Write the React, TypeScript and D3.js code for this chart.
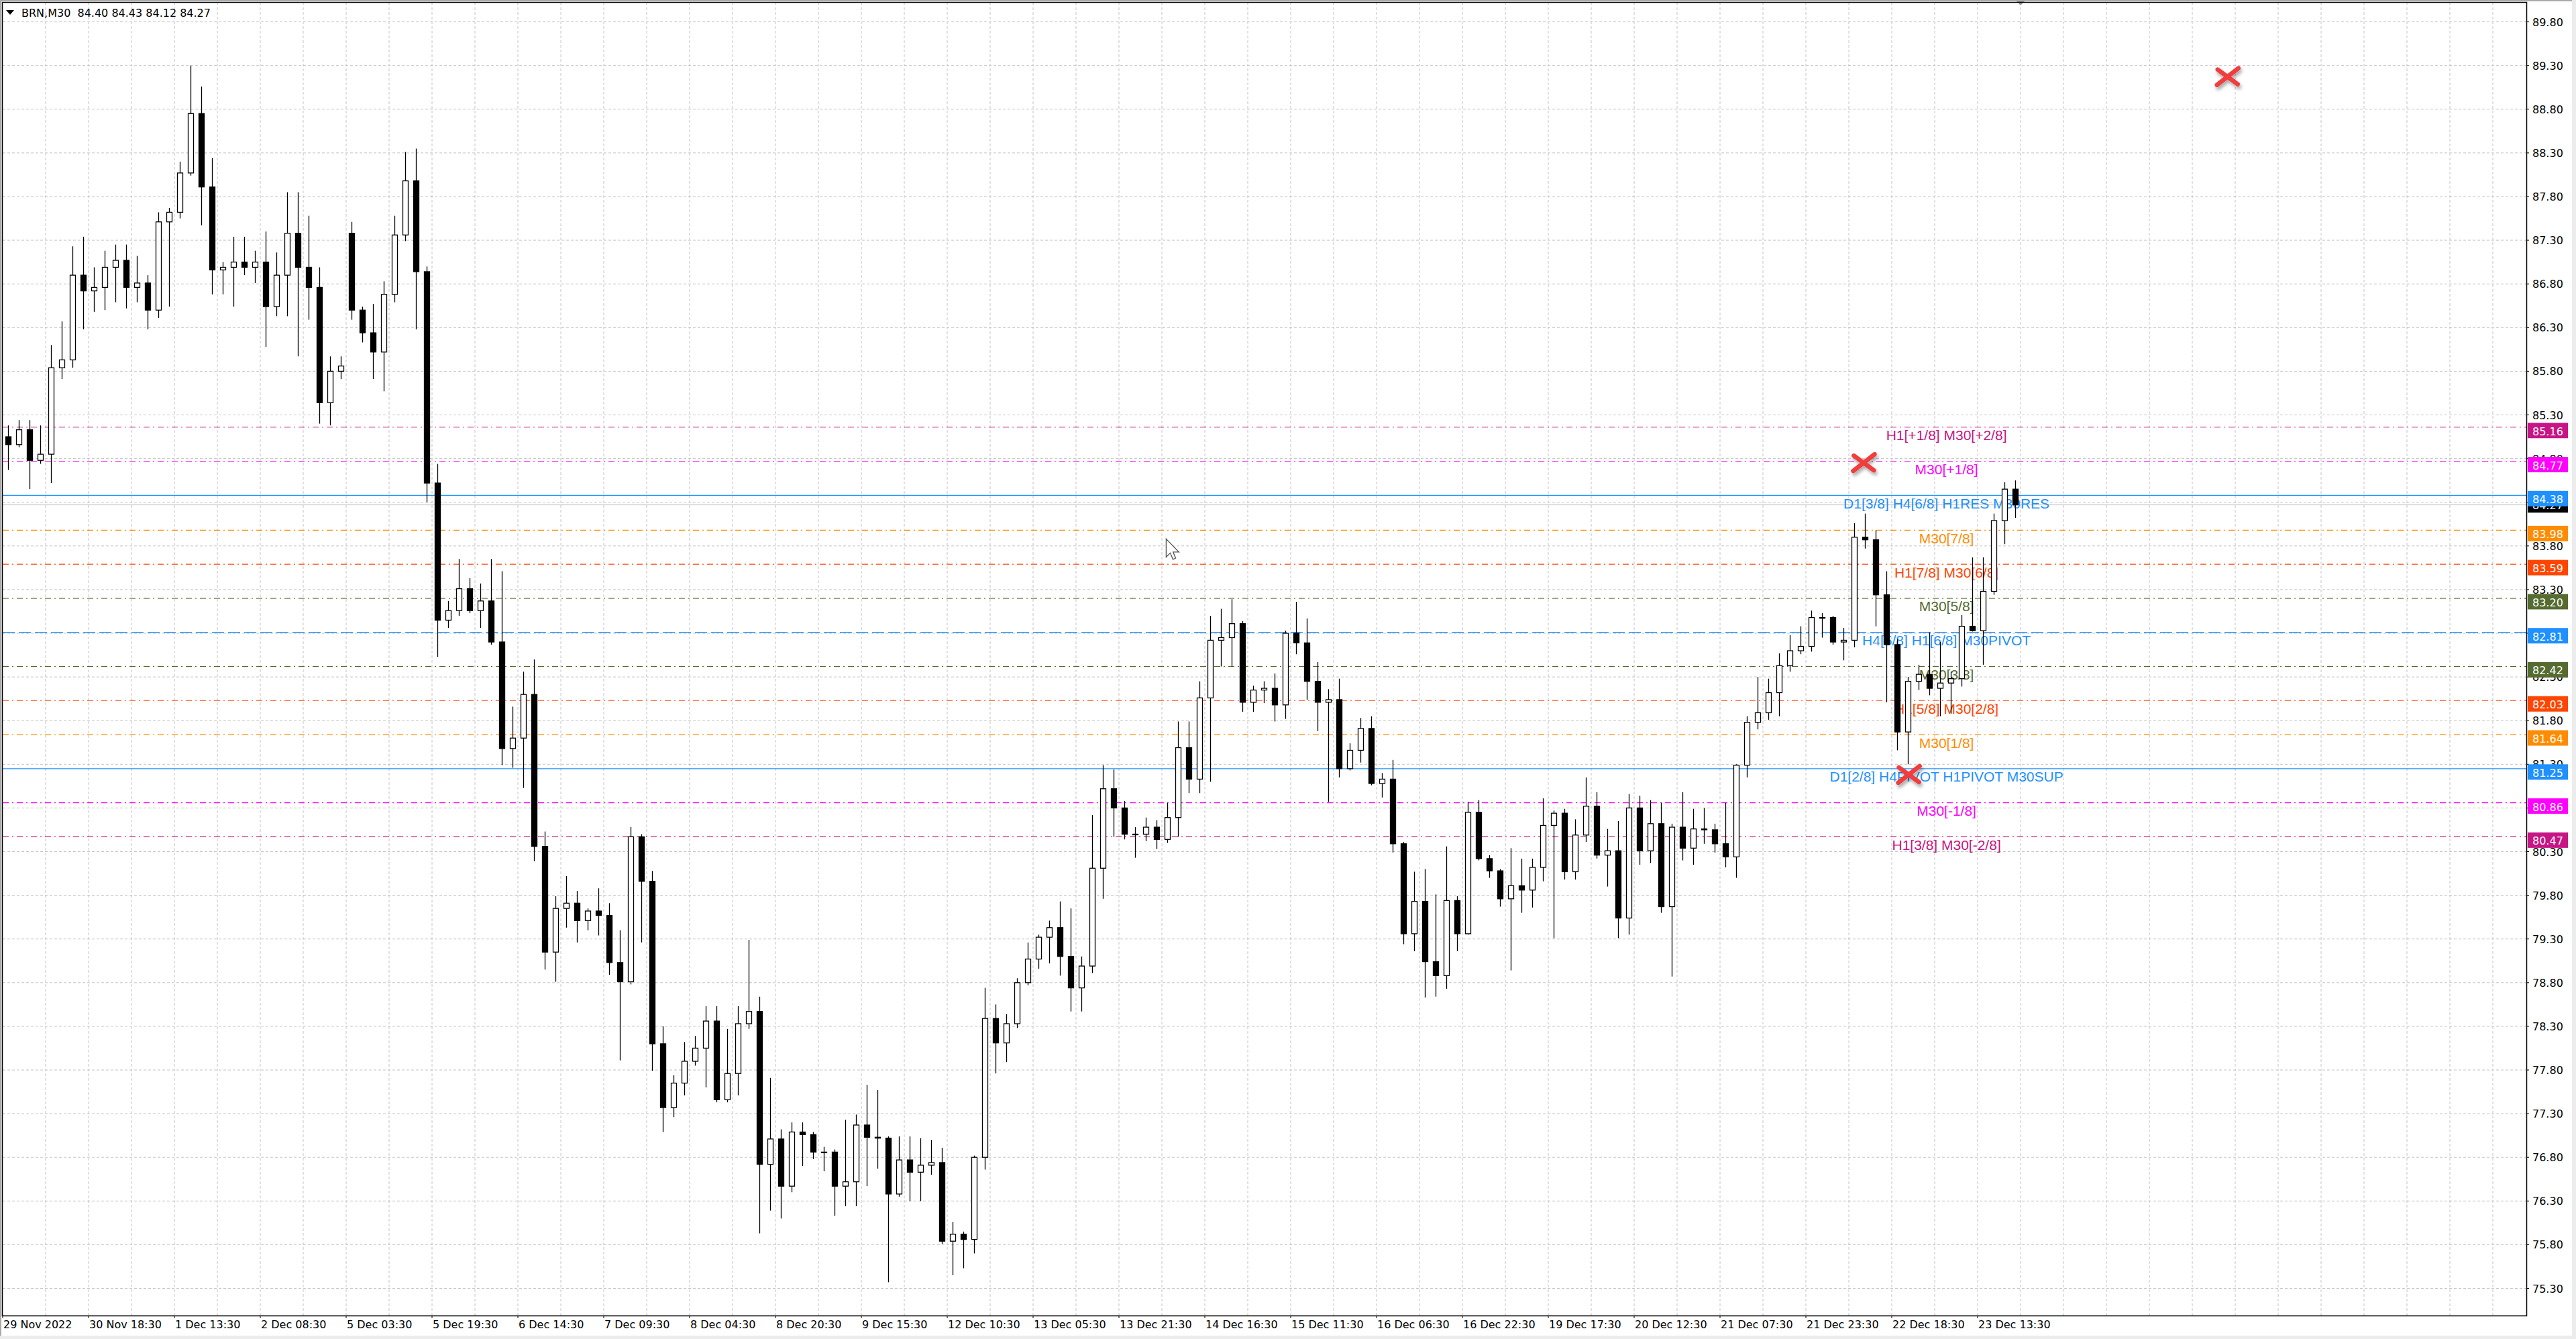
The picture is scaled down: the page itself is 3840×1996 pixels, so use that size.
import React from "react";
import * as d3 from "d3";

// chart data: M30 Brent, aggregated into 2-hour candles
const opens = [
  85.05, 84.96, 85.13, 84.78, 84.85, 85.84, 85.93, 86.9, 86.72, 86.76,
  86.99, 87.07, 86.76, 86.81, 86.5, 87.51, 87.62, 88.07, 88.75, 87.91,
  86.96, 86.99, 87.05, 86.99, 87.05, 86.54, 86.9, 87.38, 86.99, 86.76,
  85.44, 85.8, 87.38, 86.5, 86.24, 86.02, 86.68, 87.36, 87.98, 86.94,
  84.52, 82.95, 83.06, 83.31, 83.06, 83.17, 82.7, 81.48, 81.6, 82.1,
  80.36, 79.15, 79.65, 79.71, 79.51, 79.62, 79.57, 79.03, 78.81, 80.47,
  79.96, 78.1, 77.37, 77.65, 77.9, 78.05, 78.36, 77.46, 77.76, 78.33,
  78.47, 76.72, 77.01, 76.47, 77.09, 77.06, 76.86, 76.86, 76.47, 76.52,
  77.17, 77.03, 77.02, 76.38, 76.77, 76.63, 76.71, 76.74, 75.84, 75.92,
  75.86, 76.8, 78.39, 78.11, 78.33, 78.8, 79.07, 79.32, 79.43, 79.1,
  78.74, 78.99, 80.11, 81.02, 80.8, 80.5, 80.5, 80.58, 80.44, 80.69,
  81.49, 81.13, 82.06, 82.72, 82.75, 82.91, 82.01, 82.15, 82.17, 81.98,
  82.8, 82.69, 82.25, 82.01, 82.04, 81.25, 81.46, 81.71, 81.08, 81.13,
  80.39, 79.36, 79.73, 79.04, 78.88, 79.74, 79.36, 80.75, 80.22, 80.08,
  79.76, 79.91, 79.86, 80.12, 80.6, 80.74, 80.07, 80.49, 80.82, 80.26,
  80.31, 79.54, 80.8, 80.31, 80.62, 79.67, 80.58, 80.34, 80.56, 80.55,
  80.39, 80.24, 81.29, 81.78, 81.89, 82.12, 82.43, 82.6, 82.65, 82.98,
  82.98, 82.7, 82.72, 83.9, 83.87, 83.24, 82.67, 81.67, 82.25, 82.33,
  82.17, 82.23, 82.28, 82.88, 82.83, 83.28, 84.09, 84.45,
];
const highs = [
  85.18, 85.24, 85.24, 85.18, 86.1, 86.37, 87.23, 87.34, 86.99, 87.18,
  87.25, 87.25, 87.12, 86.9, 87.62, 87.67, 88.2, 89.3, 89.06, 88.24,
  87.05, 87.34, 87.34, 87.18, 87.4, 87.16, 87.85, 87.85, 87.58, 86.99,
  85.97, 85.97, 87.51, 86.54, 86.57, 86.83, 87.58, 88.31, 88.35, 87.0,
  84.74, 83.17, 83.65, 83.43, 83.37, 83.65, 83.51, 81.96, 82.36, 82.5,
  80.53, 79.79, 80.02, 79.85, 79.65, 79.88, 79.71, 79.4, 80.58, 80.5,
  80.08, 78.3, 77.74, 78.12, 78.19, 78.53, 78.53, 78.27, 78.53, 79.29,
  78.64, 77.71, 77.12, 77.2, 77.2, 77.09, 76.92, 76.89, 77.23, 77.29,
  77.63, 77.57, 77.04, 77.04, 77.04, 77.02, 77.0, 76.91, 76.06, 75.95,
  76.82, 78.74, 78.55, 78.44, 78.85, 79.26, 79.35, 79.51, 79.73, 79.65,
  79.1, 80.72, 81.29, 81.24, 80.88, 80.58, 80.69, 80.66, 80.86, 81.79,
  81.79, 82.25, 83.0, 83.08, 83.19, 82.94, 82.2, 82.25, 82.34, 82.83,
  83.16, 82.97, 82.47, 82.16, 82.28, 81.54, 81.83, 81.85, 81.2, 81.35,
  80.41, 80.07, 80.1, 79.81, 80.36, 79.79, 80.87, 80.89, 80.26, 80.1,
  80.34, 80.22, 80.22, 80.91, 80.77, 80.79, 80.67, 81.15, 80.98, 80.56,
  80.65, 80.96, 80.94, 80.89, 80.86, 80.62, 80.98, 80.79, 80.8, 80.62,
  80.86, 81.3, 81.85, 82.3, 82.28, 82.57, 82.78, 82.88, 83.06, 83.03,
  83.0, 82.86, 84.06, 84.17, 83.98, 83.51, 82.73, 82.3, 82.44, 82.81,
  82.7, 82.36, 83.01, 83.67, 83.67, 84.17, 84.53, 84.55,
];
const lows = [
  84.67, 84.93, 84.45, 84.74, 84.52, 85.71, 85.84, 86.28, 86.48, 86.5,
  86.59, 86.52, 86.59, 86.28, 86.41, 86.54, 87.55, 88.04, 87.47, 86.68,
  86.68, 86.54, 86.9, 86.81, 86.08, 86.43, 86.43, 85.97, 86.39, 85.2,
  85.18, 85.71, 86.39, 86.13, 85.71, 85.57, 86.59, 87.29, 86.28, 84.3,
  82.53, 82.86, 83.0, 83.03, 82.86, 82.67, 81.29, 81.26, 81.03, 80.19,
  78.95, 78.81, 79.43, 79.26, 79.4, 79.34, 78.89, 77.91, 78.78, 79.26,
  77.79, 77.09, 77.26, 77.51, 77.85, 77.6, 77.43, 77.43, 77.51, 78.27,
  75.93, 76.19, 76.1, 76.4, 76.7, 76.78, 76.64, 76.13, 76.24, 76.24,
  76.47, 76.67, 75.37, 76.35, 76.3, 76.3, 76.6, 75.81, 75.45, 75.53,
  75.7, 76.66, 77.76, 77.89, 78.28, 78.77, 78.96, 79.02, 78.88, 78.47,
  78.47, 78.91, 79.76, 80.47, 80.44, 80.23, 80.42, 80.33, 80.4, 80.47,
  80.97, 80.97, 81.1, 82.42, 82.42, 81.9, 81.9, 82.0, 81.79, 81.82,
  82.56, 82.04, 81.68, 80.87, 81.15, 81.23, 81.32, 81.06, 80.92, 80.29,
  79.24, 79.16, 78.63, 78.64, 78.73, 79.16, 79.35, 80.2, 80.0, 79.67,
  78.94, 79.6, 79.66, 79.96, 79.31, 79.98, 79.98, 80.41, 80.22, 79.9,
  79.31, 79.35, 80.15, 80.17, 79.6, 78.87, 80.2, 80.15, 80.39, 80.29,
  80.12, 80.0, 81.15, 81.7, 81.81, 81.85, 82.36, 82.56, 82.59, 82.75,
  82.67, 82.49, 82.64, 83.77, 82.88, 82.01, 81.46, 81.3, 82.15, 82.09,
  81.85, 81.88, 82.19, 82.82, 82.44, 83.24, 83.82, 84.12,
];
const closes = [
  84.96, 85.13, 84.78, 84.85, 85.84, 85.93, 86.9, 86.72, 86.76, 86.99,
  87.07, 86.76, 86.81, 86.5, 87.51, 87.62, 88.07, 88.75, 87.91, 86.96,
  86.99, 87.05, 86.99, 87.05, 86.54, 86.9, 87.38, 86.99, 86.76, 85.44,
  85.8, 85.86, 86.5, 86.24, 86.02, 86.68, 87.36, 87.98, 86.94, 84.52,
  82.95, 83.06, 83.31, 83.06, 83.17, 82.7, 81.48, 81.6, 82.1, 80.36,
  79.15, 79.65, 79.71, 79.51, 79.62, 79.57, 79.03, 78.81, 80.47, 79.96,
  78.1, 77.37, 77.65, 77.9, 78.05, 78.36, 77.46, 77.76, 78.33, 78.47,
  76.72, 77.01, 76.47, 77.09, 77.06, 76.86, 76.86, 76.47, 76.52, 77.17,
  77.03, 77.02, 76.38, 76.77, 76.63, 76.71, 76.74, 75.84, 75.92, 75.86,
  76.8, 78.39, 78.11, 78.33, 78.8, 79.07, 79.32, 79.43, 79.1, 78.74,
  78.99, 80.11, 81.02, 80.8, 80.5, 80.5, 80.58, 80.44, 80.69, 81.49,
  81.13, 82.06, 82.72, 82.75, 82.91, 82.01, 82.15, 82.17, 81.98, 82.8,
  82.69, 82.25, 82.01, 82.04, 81.25, 81.46, 81.71, 81.08, 81.13, 80.39,
  79.36, 79.73, 79.04, 78.88, 79.74, 79.36, 80.75, 80.22, 80.08, 79.76,
  79.91, 79.86, 80.12, 80.6, 80.74, 80.07, 80.49, 80.82, 80.26, 80.31,
  79.54, 80.8, 80.31, 80.62, 79.67, 80.58, 80.34, 80.56, 80.55, 80.39,
  80.24, 81.29, 81.78, 81.89, 82.12, 82.43, 82.6, 82.65, 82.98, 82.98,
  82.7, 82.72, 83.9, 83.87, 83.24, 82.67, 81.67, 82.25, 82.33, 82.17,
  82.23, 82.28, 82.88, 82.83, 83.28, 84.09, 84.45, 84.27,
];

// time axis labels, one every 8 candles
const timeLabels = [
  "29 Nov 2022", "30 Nov 18:30", "1 Dec 13:30", "2 Dec 08:30", "5 Dec 03:30",
  "5 Dec 19:30", "6 Dec 14:30", "7 Dec 09:30", "8 Dec 04:30", "8 Dec 20:30",
  "9 Dec 15:30", "12 Dec 10:30", "13 Dec 05:30", "13 Dec 21:30", "14 Dec 16:30",
  "15 Dec 11:30", "16 Dec 06:30", "16 Dec 22:30", "19 Dec 17:30", "20 Dec 12:30",
  "21 Dec 07:30", "21 Dec 23:30", "22 Dec 18:30", "23 Dec 13:30",
];

const priceTicks = [
  75.3, 75.8, 76.3, 76.8, 77.3, 77.8, 78.3, 78.8, 79.3, 79.8, 80.3, 80.8, 81.3,
  81.8, 82.3, 82.8, 83.3, 83.8, 84.3, 84.8, 85.3, 85.8, 86.3, 86.8, 87.3, 87.8,
  88.3, 88.8, 89.3, 89.8,
];

// Murrey math levels
const levelPrices = [85.16, 84.77, 84.38, 83.98, 83.59, 83.2, 82.81, 82.42, 82.03, 81.64, 81.25, 80.86, 80.47];
const levelNames = [
  "H1[+1/8] M30[+2/8]",
  "M30[+1/8]",
  "D1[3/8] H4[6/8] H1RES M30RES",
  "M30[7/8]",
  "H1[7/8] M30[6/8]",
  "M30[5/8]",
  "H4[5/8] H1[6/8] M30PIVOT",
  "M30[3/8]",
  "H1[5/8] M30[2/8]",
  "M30[1/8]",
  "D1[2/8] H4PIVOT H1PIVOT M30SUP",
  "M30[-1/8]",
  "H1[3/8] M30[-2/8]",
];
const levelColors = [
  "#C71585", "#FF00FF", "#1E90FF", "#FF8C00", "#FF4500", "#556B2F", "#1E90FF",
  "#556B2F", "#FF4500", "#FF8C00", "#1E90FF", "#FF00FF", "#C71585",
];
const levelStyles = [
  "dashdot", "dashdot", "solid", "dashdot", "dashdot", "dashdot", "dash",
  "dashdot", "dashdot", "dashdot", "solid", "dashdot", "dashdot",
];

const lastBar = { name: "BRN,M30", open: 84.4, high: 84.43, low: 84.12, close: 84.27 };

// arrow objects (red crosses)
const crossSlots = [173.4, 177.6, 207.3];
const crossPrices = [84.75, 81.18, 89.17];

// mouse pointer position (slot, price)
const pointerAt = { slot: 108.4, price: 83.88 };

const W = 3840;
const H = 1996;
const FONT = "'DejaVu Sans', Verdana, sans-serif";

const dashFor = (s: string) =>
  s === "dashdot" ? "9 5 2 5" : s === "dash" ? "18 6" : undefined;

export default function App() {
  const left = 4;
  const right = 3766;
  const top = 4;
  const bottom = 1961;

  const x = d3.scaleLinear().domain([0, 235]).range([left, 3764]);
  const y = d3.scaleLinear().domain([75.3, 89.8]).range([1920.5, 32.6]);

  const labelX = x(181.1);
  const bodyW = 8;

  return (
    <svg
      width={W}
      height={H}
      style={{ position: "absolute", left: 0, top: 0, display: "block", background: "#fff" }}
      fontFamily={FONT}
    >
      <defs>
        <clipPath id="plot">
          <rect x={left} y={top} width={right - left} height={bottom - top} />
        </clipPath>
        <filter id="shadow" x="-50%" y="-50%" width="200%" height="200%">
          <feDropShadow dx="2" dy="4" stdDeviation="2.5" floodColor="#000" floodOpacity="0.35" />
        </filter>
      </defs>
      <rect width={W} height={H} fill="#fff" />

      {/* window edges */}
      <rect x={0} y={0} width={W} height={2} fill="#a9a9a9" />
      <rect x={0} y={0} width={2} height={H} fill="#a9a9a9" />
      <rect x={3834} y={0} width={6} height={H} fill="#ececec" />
      <rect x={0} y={1991} width={W} height={5} fill="#ececec" />

      <g clipPath="url(#plot)">
        {/* grid */}
        {d3.range(1, 59).map((j) => (
          <line key={"vg" + j} x1={x(j * 4)} x2={x(j * 4)} y1={top} y2={bottom}
            stroke="#c4c4c4" strokeDasharray="4 3" />
        ))}
        {priceTicks.map((p) => (
          <line key={"hg" + p} x1={left} x2={right} y1={y(p)} y2={y(p)}
            stroke="#c4c4c4" strokeDasharray="4 3" />
        ))}

        {/* levels */}
        {levelPrices.map((p, i) => (
          <line key={"lv" + i} x1={left} x2={right} y1={y(p)} y2={y(p)}
            stroke={levelColors[i]} strokeWidth={1.2}
            strokeDasharray={dashFor(levelStyles[i])} />
        ))}
        <line x1={left} x2={right} y1={y(lastBar.close)} y2={y(lastBar.close)} stroke="#c0c0c0" />
        {levelPrices.map((p, i) => (
          <text key={"lt" + i} x={labelX} y={y(p) + 19.5} textAnchor="middle"
            fontFamily="'Liberation Sans', Arial, sans-serif" fontSize={21} fill={levelColors[i]}>
            {levelNames[i]}
          </text>
        ))}

        {/* candles */}
        {closes.map((c, i) => {
          const o = opens[i];
          const cx = Math.round(x(i + 0.5)) + 0.5;
          const yt = y(Math.max(o, c));
          const yb = y(Math.min(o, c));
          const bull = c >= o;
          return (
            <g key={"c" + i}>
              <line x1={cx} x2={cx} y1={y(highs[i])} y2={y(lows[i])} stroke="#000" strokeWidth={1.3} />
              <rect x={cx - bodyW / 2} y={yt} width={bodyW} height={Math.max(1, yb - yt)}
                fill={bull ? "#fff" : "#000"} stroke="#000" strokeWidth={1.3} />
            </g>
          );
        })}

        {/* crosses */}
        {crossSlots.map((s, i) => {
          const cx = x(s);
          const cy = y(crossPrices[i]);
          return (
            <g key={"x" + i} filter="url(#shadow)" stroke="#F03C3C" strokeWidth={6.5} strokeLinecap="round">
              <line x1={cx - 15} y1={cy - 11} x2={cx + 15} y2={cy + 11} />
              <line x1={cx + 16} y1={cy - 13} x2={cx - 16} y2={cy + 12} />
            </g>
          );
        })}

        {/* mouse pointer */}
        <path
          transform={`translate(${x(pointerAt.slot)},${y(pointerAt.price)}) scale(1.35)`}
          d="M0 0 L0 20 L4.5 15.5 L7.5 22.5 L10.5 21.2 L7.6 14.4 L14 14.4 Z"
          fill="#fff" stroke="#555" strokeWidth={1} />
      </g>

      {/* chart shift marker */}
      <polygon points={`${x(188) - 7},1 ${x(188) + 7},1 ${x(188)},8`} fill="#9a9a9a" />

      {/* frame */}
      <rect x={left - 0.5} y={top - 0.5} width={right - left + 1} height={bottom - top + 1}
        fill="none" stroke="#000" strokeWidth={1.5} />

      {/* header */}
      <polygon points="9,15 21,15 15,22" fill="#000" />
      <text x={32} y={25} fontSize={16} fill="#000" style={{ whiteSpace: "pre" }}>
        {`${lastBar.name}  ${lastBar.open.toFixed(2)} ${lastBar.high.toFixed(2)} ${lastBar.low.toFixed(2)} ${lastBar.close.toFixed(2)}`}
      </text>

      {/* price axis */}
      {priceTicks.map((p) => (
        <g key={"pt" + p}>
          <line x1={right} x2={right + 4} y1={y(p)} y2={y(p)} stroke="#000" />
          <text x={3775} y={y(p) + 6} fontSize={16} fill="#000">{p.toFixed(2)}</text>
        </g>
      ))}
      <rect x={3768} y={y(lastBar.close) - 11.5} width={60} height={23} fill="#000" />
      <text x={3775} y={y(lastBar.close) + 6} fontSize={16} fill="#fff">{lastBar.close.toFixed(2)}</text>
      {levelPrices.map((p, i) => (
        <g key={"pb" + i}>
          <rect x={3768} y={y(p) - 6.5} width={60} height={23} fill={levelColors[i]} />
          <text x={3775} y={y(p) + 12} fontSize={16} fill="#fff">{p.toFixed(2)}</text>
        </g>
      ))}

      {/* time axis */}
      {timeLabels.map((t, i) => (
        <g key={"tl" + i}>
          <line x1={x(i * 8)} x2={x(i * 8)} y1={bottom} y2={bottom + 4} stroke="#000" />
          <text x={x(i * 8) + 1} y={1980} fontSize={16} fill="#000">{t}</text>
        </g>
      ))}
    </svg>
  );
}
